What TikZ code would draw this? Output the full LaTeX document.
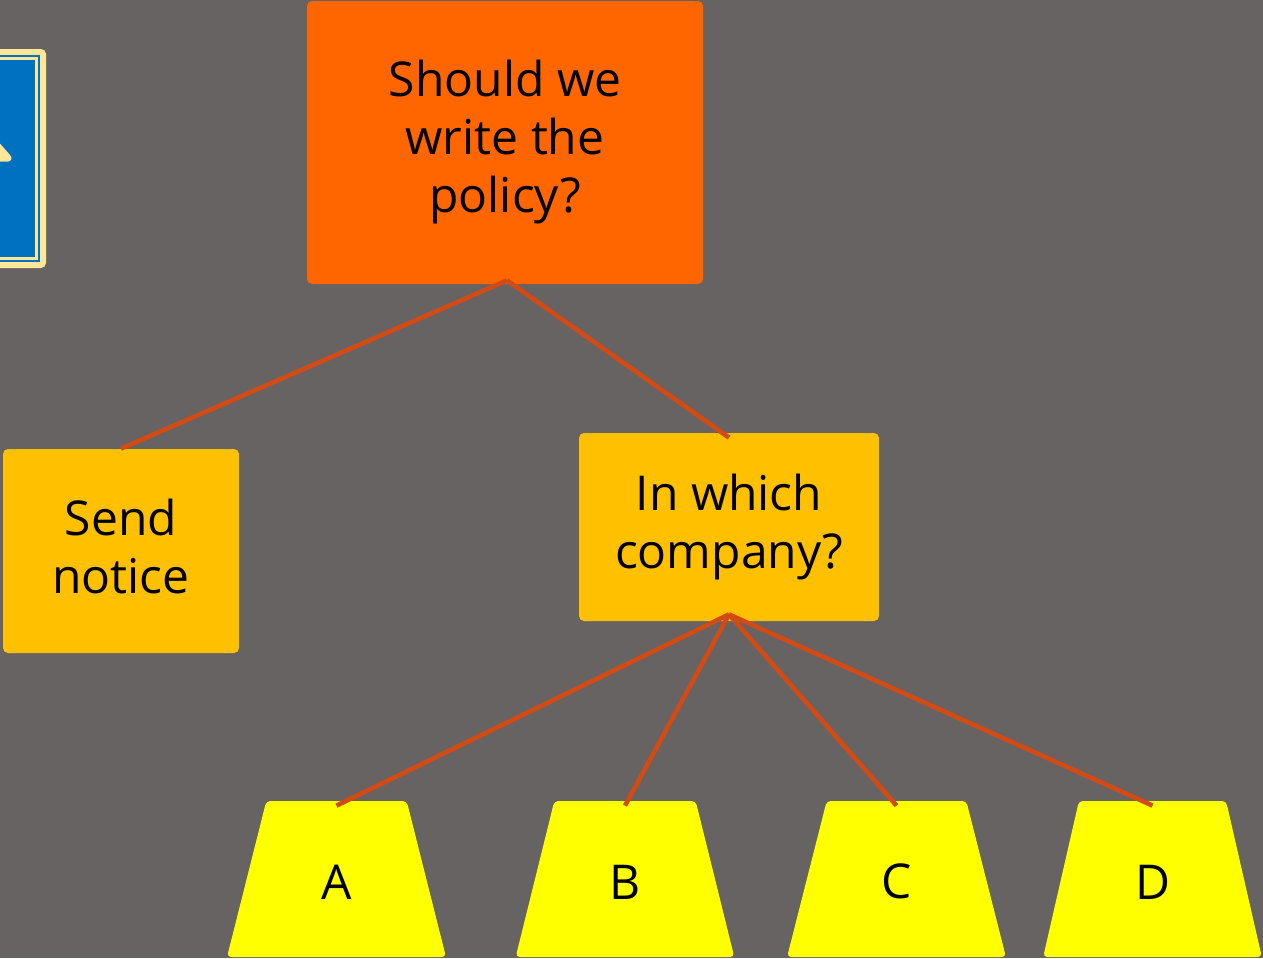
\documentclass[tikz,border=0pt]{standalone}
\usepackage{fontspec}
\setmainfont{Open Sans}
\usepackage{xcolor}
\usetikzlibrary{shapes.geometric}

\definecolor{slate}{HTML}{676362}
\definecolor{tangerine}{HTML}{FF6600}
\definecolor{amber}{HTML}{FFC000}
\definecolor{lemon}{HTML}{FFFF00}
\definecolor{rust}{HTML}{D24A14}
\definecolor{cobalt}{HTML}{0070C0}
\definecolor{cream}{HTML}{FFE699}

\tikzset{
	question/.style={fill=#1, rounded corners=2.5pt, align=center, inner sep=0pt, font=\fontsize{24}{29}\selectfont},
	company/.style={trapezium, trapezium angle=78, trapezium stretches=true, fill=lemon, minimum width=109.5pt, minimum height=78pt, inner sep=0pt, rounded corners=2pt, text height=20pt, font=\fontsize{24}{29}\selectfont},
	link/.style={draw=rust, line width=2.3pt},
}

\begin{document}
\begin{tikzpicture}[x=0.5pt, y=-0.5pt]
	\clip (0,0) rectangle (1263,958);
	\fill[slate] (0,0) rectangle (1263,958);
	
	
	\fill[cream, rounded corners=2.5pt] (-20,49) rectangle (46,268);
	\fill[cobalt] (-20,55) rectangle (40,262);
	\draw[cream, line width=1.25pt] (-20,58.5) -- (36.5,58.5) -- (36.5,258.5) -- (-20,258.5);
	\draw[cream, line width=3.5pt, line join=round] (-14,133) -- (8,158) -- (-20,158);
	
	
	\node[question=tangerine, minimum width=198pt, minimum height=141.5pt] (policy) at (505,142.5) {Should we\\write the\\policy?};
	\node[question=amber, minimum width=118pt, minimum height=102pt, text depth=5pt] (notice) at (121,551) {Send\\notice};
	\node[question=amber, minimum width=150pt, minimum height=94pt] (which) at (729,527) {In which\\company?};
	
	\node[company] (coA) at (336.5,879) {A};
	\node[company] (coB) at (625,879) {B};
	\node[company] (coC) at (896.5,879) {C};
	\node[company] (coD) at (1152.5,879) {D};
	
	
	\draw[link] ([xshift=1pt,yshift=2pt]policy.south) -- (notice.north);
	\draw[link] ([xshift=1pt,yshift=2pt]policy.south) -- ([yshift=-2.5pt]which.north);
	\draw[link] ([yshift=3.5pt]which.south) -- ([yshift=-2.5pt]coA.north);
	\draw[link] ([yshift=3.5pt]which.south) -- ([yshift=-2.5pt]coB.north);
	\draw[link] ([yshift=3.5pt]which.south) -- ([yshift=-2.5pt]coC.north);
	\draw[link] ([yshift=3.5pt]which.south) -- ([yshift=-2.5pt]coD.north);
\end{tikzpicture}
\end{document}
